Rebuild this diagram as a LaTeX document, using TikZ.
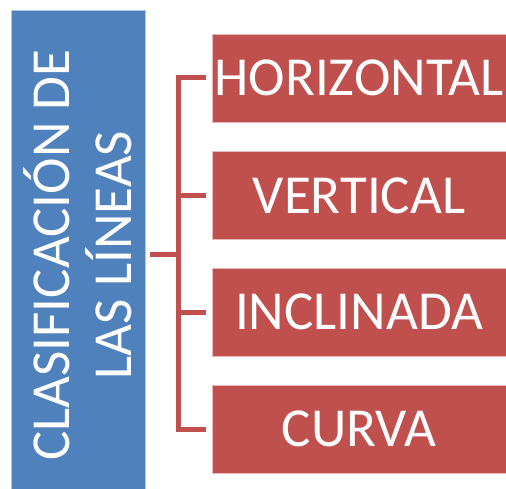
\documentclass[tikz,border=0pt]{standalone}
\usepackage{fontspec}
\setmainfont{Carlito}
\definecolor{azul}{HTML}{4F81BD}
\definecolor{rojo}{HTML}{C0504D}
\tikzset{
  tipo/.style={fill=rojo, draw=white!60!rojo, line width=0.8pt, text=white,
    minimum width=294pt, minimum height=88pt, inner sep=0pt,
    font=\fontsize{55}{62}\selectfont},
  titulo/.style={fill=azul, draw=white!55!azul, line width=0.8pt, text=white,
    rotate=90, minimum width=490pt, minimum height=134pt, inner sep=0pt,
    align=center, font=\fontsize{55}{62}\selectfont},
  enlace/.style={draw=rojo, line width=5pt}
}
\begin{document}
\begin{tikzpicture}[x=1pt,y=-1pt]
\useasboundingbox (0,0) rectangle (506,489);

\node[titulo] (clas) at (78,255) {CLASIFICACIÓN DE\\LAS LÍNEAS};

\node[tipo] (hor) at (359,78) {HORIZONTAL};
\node[tipo] (ver) at (359,195.5) {VERTICAL};
\node[tipo] (inc) at (359,312) {INCLINADA};
\node[tipo] (cur) at (359,429) {CURVA};

\coordinate (fork) at (178,254);

\draw[enlace, shorten <=5pt] (clas.south |- fork) -- (fork);
\foreach \b in {hor,ver,inc,cur}{
\draw[enlace, shorten >=6pt] (fork) |- (\b.west);}
\end{tikzpicture}
\end{document}
